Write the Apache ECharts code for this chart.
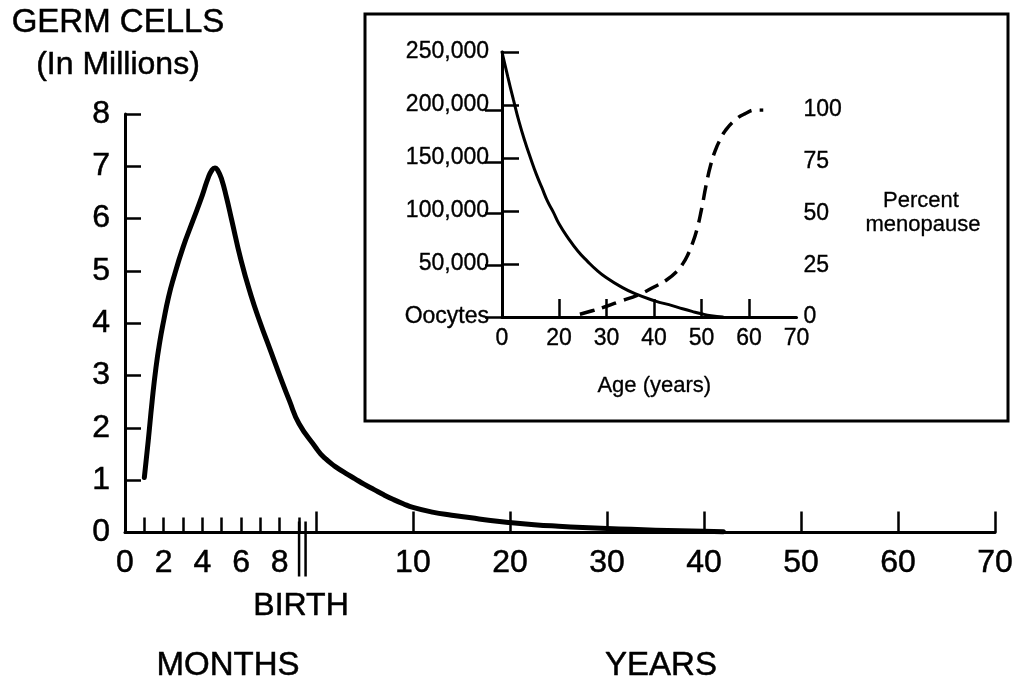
<!DOCTYPE html>
<html>
<head>
<meta charset="utf-8">
<script src="https://cdn.jsdelivr.net/npm/echarts@6/dist/echarts.min.js"></script>
<style>
  html, body { margin: 0; padding: 0; background: #fff; }
  #chart { width: 1017px; height: 684px; }
</style>
</head>
<body>
<div id="chart"></div>
<script>
// ---- Germ cells (millions): prenatal months, then postnatal years ----
const prenatalMonths = [1.0, 1.2, 1.4, 1.6, 1.8, 2.0, 2.25, 2.5, 3.0, 3.5, 4.0, 4.3, 4.5, 4.65, 4.8, 5.0, 5.25, 5.5, 6.0, 6.5, 7.0, 7.5, 8.0, 8.5, 9.0];
const prenatalCells  = [1.05, 1.75, 2.5, 3.15, 3.65, 4.05, 4.5, 4.85, 5.45, 5.95, 6.45, 6.78, 6.93, 6.97, 6.92, 6.75, 6.4, 6.0, 5.2, 4.55, 4.0, 3.5, 3.0, 2.52, 2.08];
const postnatalYears = [0, 0.5, 1, 1.5, 2, 3, 4, 5, 6, 7, 8, 9, 10, 12, 14, 16, 18, 20, 22.5, 25, 27.5, 30, 32.5, 35, 37.5, 40, 42];
const postnatalCells = [1.62, 1.5, 1.41, 1.33, 1.26, 1.14, 1.03, 0.92, 0.82, 0.72, 0.63, 0.55, 0.48, 0.39, 0.33, 0.28, 0.23, 0.19, 0.15, 0.12, 0.095, 0.075, 0.06, 0.045, 0.035, 0.025, 0.015];

const birthMonth = 9;
const monthTicks = [1, 2, 3, 4, 5, 6, 7, 8, 9];
const monthLabels = [0, 2, 4, 6, 8];
const yearTicks = [0, 10, 20, 30, 40, 50, 60, 70];
const yearLabels = [10, 20, 30, 40, 50, 60, 70];

// ---- Inset: oocytes and percent menopause by age ----
const oocyteAges   = [0, 2, 4, 6, 8, 10, 12, 14, 16, 18, 20, 22, 24, 26, 28, 30, 33, 36, 40, 44, 46, 48, 50, 52, 54.5];
const oocyteCounts = [250000, 227000, 205000, 184000, 166000, 150000, 135000, 122000, 109000, 99000, 88000, 74000, 62000, 52500, 44000, 37000, 28600, 22000, 15500, 10500, 7800, 5300, 3000, 1200, 0];
const menoAges    = [24.4, 27, 30, 33, 36.6, 40, 42.7, 45, 46, 47, 48, 49, 50, 51, 52, 53, 54, 55, 57, 59, 61.5, 63];
const menoPercent = [1.3, 3, 5.2, 7.7, 10.6, 14.5, 18, 22.5, 25.5, 29.5, 35, 42, 52, 64, 74, 81, 86, 90, 95, 98, 100, 100];

const ageLabels = [0, 20, 30, 40, 50, 60, 70];
const ageTicks = [20, 30, 40, 50, 60];

// Main x axis is broken: one unit per gestational month, then a
// compressed year scale that starts just after the birth mark.
const GESTATION_SPAN = 9.87;
const UNITS_PER_YEAR = 0.5016;
const monthPos = m => m;
const yearPos = y => GESTATION_SPAN + y * UNITS_PER_YEAR;
const MAIN_MAX = yearPos(70);

// Inset age axis: 0-20 years squeezed, then linear from 20 to 70.
const agePos = a => (a <= 20 ? a * 0.6 : 12 + (a - 20));
const AGE_MAX = agePos(70);

const FONT = "'Liberation Sans', Arial, Helvetica, sans-serif";
const INK = '#000';

function labelMap(values, posFn) {
  const m = new Map();
  values.forEach(v => m.set(posFn(v).toFixed(4), String(v)));
  return v => m.get(Number(v).toFixed(4)) || '';
}

const mainCurve = prenatalMonths.map((m, i) => [monthPos(m), prenatalCells[i]])
  .concat(postnatalYears.map((y, i) => [yearPos(y), postnatalCells[i]]));
const oocyteCurve = oocyteAges.map((a, i) => [agePos(a), oocyteCounts[i]]);
const menoCurve = menoAges.map((a, i) => [agePos(a), menoPercent[i]]);

const monthFmt = labelMap(monthLabels, monthPos);
const yearFmt = labelMap(yearLabels, yearPos);
const ageFmt = labelMap(ageLabels, agePos);

const chart = echarts.init(document.getElementById('chart'), null, { renderer: 'canvas' });

const axisLine = { show: true, lineStyle: { color: INK, width: 3 } };
const bigLabel = { color: INK, fontFamily: FONT, fontSize: 32, textBorderColor: INK, textBorderWidth: 0.5 };
const smallLabel = { color: INK, fontFamily: FONT, fontSize: 23, textBorderColor: INK, textBorderWidth: 0.35 };

const option = {
  animation: false,
  backgroundColor: '#fff',
  grid: [
    { left: 125, right: 22, top: 114, bottom: 151.5 },
    { left: 502, right: 220.5, top: 52, bottom: 367 },
    { left: 502, right: 220.5, top: 110, bottom: 367 }
  ],
  xAxis: [
    { // months
      type: 'value', gridIndex: 0, min: 0, max: MAIN_MAX,
      axisLine: axisLine,
      splitLine: { show: false },
      axisTick: { show: true, inside: true, length: 15, lineStyle: { color: INK, width: 2.5 },
        customValues: monthTicks.map(monthPos) },
      axisLabel: Object.assign({ show: true, customValues: monthLabels.map(monthPos), formatter: monthFmt, margin: 15 }, bigLabel)
    },
    { // years
      type: 'value', gridIndex: 0, min: 0, max: MAIN_MAX, position: 'bottom',
      axisLine: { show: false },
      splitLine: { show: false },
      axisTick: { show: true, inside: true, length: 21, lineStyle: { color: INK, width: 2.5 },
        customValues: yearTicks.map(yearPos) },
      axisLabel: Object.assign({ show: true, customValues: yearLabels.map(yearPos), formatter: yearFmt, margin: 15 }, bigLabel)
    },
    { // inset age
      type: 'value', gridIndex: 1, min: 0, max: AGE_MAX,
      axisLine: axisLine,
      splitLine: { show: false },
      axisTick: { show: true, inside: true, length: 18, lineStyle: { color: INK, width: 2.5 },
        customValues: ageTicks.map(agePos) },
      axisLabel: Object.assign({ show: true, customValues: ageLabels.map(agePos), formatter: ageFmt, margin: 10 }, smallLabel),
      name: 'Age (years)', nameLocation: 'middle', nameGap: 58,
      nameTextStyle: { color: INK, fontFamily: FONT, fontSize: 22, padding: [0, 0, 0, 10], textBorderColor: INK, textBorderWidth: 0.3 }
    },
    { // inset age, percent grid (hidden twin)
      type: 'value', gridIndex: 2, min: 0, max: AGE_MAX, show: false
    }
  ],
  yAxis: [
    {
      type: 'value', gridIndex: 0, min: 0, max: 8, interval: 1,
      axisLine: axisLine,
      splitLine: { show: false },
      axisTick: { show: true, inside: true, length: 16, lineStyle: { color: INK, width: 2.5 } },
      axisLabel: Object.assign({ margin: 15 }, bigLabel)
    },
    {
      type: 'value', gridIndex: 1, min: 0, max: 250000, interval: 50000,
      axisLine: axisLine,
      splitLine: { show: false },
      axisTick: { show: true, inside: true, length: 17, lineStyle: { color: INK, width: 2.5 } },
      axisLabel: Object.assign({ margin: 13,
        formatter: v => (v === 0 ? 'Oocytes' : v.toLocaleString('en-US')) }, smallLabel)
    },
    {
      type: 'value', gridIndex: 2, min: 0, max: 100, interval: 25, position: 'right',
      axisLine: axisLine,
      splitLine: { show: false },
      axisTick: { show: true, inside: true, length: 17, lineStyle: { color: INK, width: 2.5 } },
      axisLabel: Object.assign({ margin: 7 }, smallLabel)
    }
  ],
  series: [
    {
      name: 'Germ cells', type: 'line', xAxisIndex: 0, yAxisIndex: 0,
      data: mainCurve, smooth: 0.5, showSymbol: false, symbol: 'none',
      lineStyle: { color: INK, width: 5, cap: 'round', join: 'round' }
    },
    {
      name: 'Oocytes', type: 'line', xAxisIndex: 2, yAxisIndex: 1,
      data: oocyteCurve, smooth: 0.5, showSymbol: false, symbol: 'none',
      lineStyle: { color: INK, width: 3, cap: 'round' }
    },
    {
      name: 'Percent menopause', type: 'line', xAxisIndex: 3, yAxisIndex: 2,
      data: menoCurve, smooth: 0.5, showSymbol: false, symbol: 'none',
      lineStyle: { color: INK, width: 3.5, type: [15, 8] }
    }
  ]
};

chart.setOption(option);

// Birth mark, frame of the inset and free-standing titles
const birthX = chart.convertToPixel({ xAxisIndex: 0 }, monthPos(birthMonth));
const axisY = chart.convertToPixel({ yAxisIndex: 0 }, 0);
const text = (t, x, y, size, stroke) => ({
  type: 'text', x: x, y: y,
  style: { text: t, fill: INK, font: size + 'px ' + FONT, align: 'center', verticalAlign: 'middle',
    stroke: INK, lineWidth: stroke }
});

chart.setOption({
  graphic: [
    { type: 'rect', shape: { x: 365, y: 14, width: 643, height: 407 },
      style: { fill: 'none', stroke: INK, lineWidth: 3 }, z: 10 },
    { type: 'line', shape: { x1: birthX, y1: axisY - 11, x2: birthX, y2: axisY + 44 },
      style: { stroke: INK, lineWidth: 2.5 }, z: 10 },
    { type: 'line', shape: { x1: birthX + 6.5, y1: axisY - 11, x2: birthX + 6.5, y2: axisY + 44 },
      style: { stroke: INK, lineWidth: 2.5 }, z: 10 },
    text('BIRTH', birthX + 2, 606, 32, 0.5),
    text('GERM CELLS', 118, 23, 33, 0.5),
    text('(In Millions)', 118, 65, 32, 0.5),
    text('MONTHS', 228, 666, 33, 0.5),
    text('YEARS', 661, 666, 33, 0.5),
    text('Percent', 921, 201, 22, 0.3),
    text('menopause', 923, 225, 22, 0.3)
  ]
});
</script>
</body>
</html>
